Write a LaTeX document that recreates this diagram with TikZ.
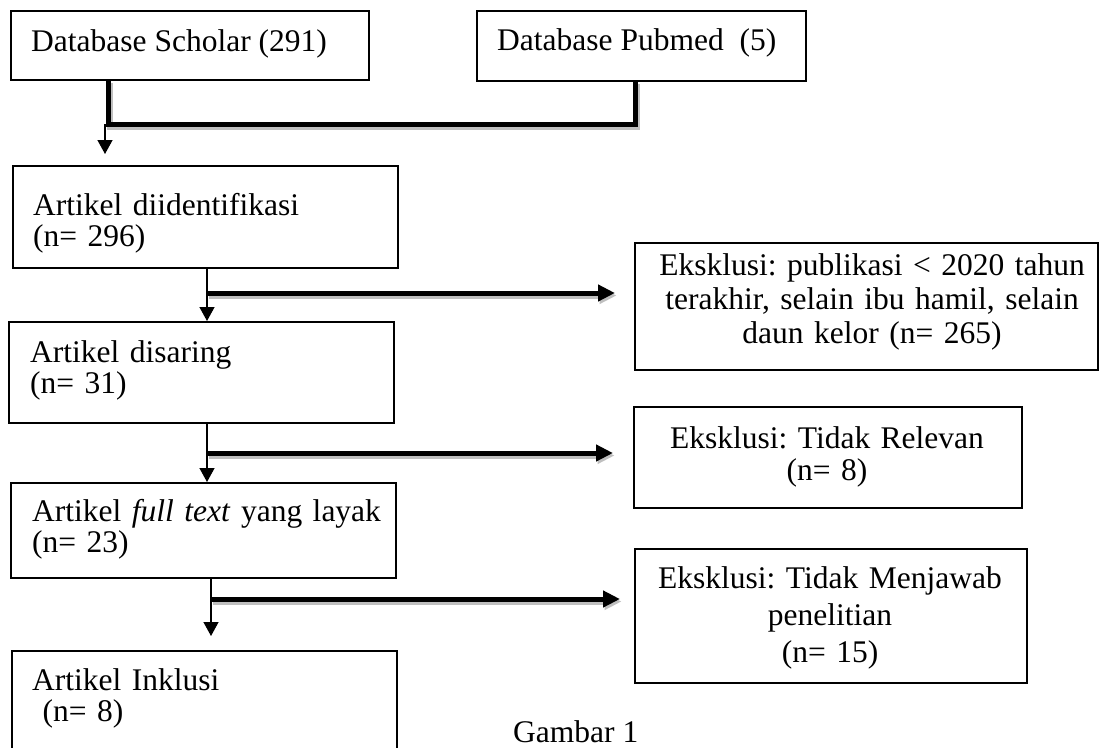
\documentclass[tikz,border=0pt]{standalone}
\usepackage{fontspec}
\setmainfont{Liberation Serif}
\usetikzlibrary{arrows.meta,calc}
\begin{document}
\begin{tikzpicture}[x=1pt,y=-1pt,
  box/.style={draw, line width=1.6pt, anchor=north west, inner sep=0pt},
  txt/.style={font=\fontsize{31.5}{31}\selectfont\frenchspacing, inner sep=0pt, anchor=base west, align=left},
  ctxt/.style={font=\fontsize{31.5}{34}\selectfont\frenchspacing, inner sep=0pt, anchor=base, align=center},
  thinarrow/.style={line width=1.3pt, -{Triangle[length=14pt,width=15pt]}},
  thickline/.style={line width=5pt, preaction={draw=black!25, line width=6pt, transform canvas={shift={(1.5,2.5)}}}},
  thickarrow/.style={thickline, -{Triangle[length=17pt,width=16pt]}}]
\useasboundingbox[fill=white] (0,0) rectangle (1099,747);
\clip (0,0) rectangle (1099,747);
% boxes
\node[box, minimum width=358pt, minimum height=69pt] (A) at (10,10) {};
\node[box, minimum width=329pt, minimum height=70pt] (B) at (476,10) {};
\node[box, minimum width=385pt, minimum height=102pt] (C) at (12,165) {};
\node[box, minimum width=463pt, minimum height=127pt] (D) at (634,242) {};
\node[box, minimum width=385pt, minimum height=101pt] (E) at (8,321) {};
\node[box, minimum width=388pt, minimum height=101pt] (G) at (633,406) {};
\node[box, minimum width=385pt, minimum height=95pt] (F) at (10,482) {};
\node[box, minimum width=392pt, minimum height=134pt] (I) at (634,548) {};
\node[box, minimum width=385pt, minimum height=130pt] (H) at (11,650) {};
% texts
\node[txt] (tA) at (31,51) {Database Scholar (291)};
\node[txt] (tB) at (497,50) {Database Pubmed\ \ (5)};
\node[txt, text width=370pt] (tC) at (33,215) {Artikel diidentifikasi\\(n= 296)};
\node[txt, text width=370pt] (tE) at (30,362) {Artikel disaring\\(n= 31)};
\node[txt, text width=370pt] (tF) at (32,521) {Artikel \textit{full text} yang layak\\(n= 23)};
\node[txt, text width=370pt] (tH) at (32,690) {Artikel Inklusi\\\ (n= 8)};
\node[ctxt, text width=460pt] (tD) at (872,275) {Eksklusi: publikasi < 2020 tahun\\terakhir, selain ibu hamil, selain\\daun kelor (n= 265)};
\node[ctxt, text width=380pt, font=\fontsize{31.5}{32}\selectfont\frenchspacing] (tG) at (827,448) {Eksklusi: Tidak Relevan\\(n= 8)};
\node[ctxt, text width=380pt, font=\fontsize{31.5}{37}\selectfont\frenchspacing] (tI) at (830,588) {Eksklusi: Tidak Menjawab\\penelitian\\(n= 15)};
\node[txt] (cap) at (513,742) {Gambar 1};
% connectors
\coordinate (j1) at (108,124);
\coordinate (j2) at (635,124);
\draw[thickline] (A.south -| j1) -- (j1) -- (j2) -- (B.south -| j2);
\coordinate (k1) at (105,124);
\draw[thinarrow] (k1) -- ($(C.north -| k1)+(0,-11)$);
\coordinate (k2) at (207,293);
\draw[thinarrow] (C.south -| k2) -- (E.north -| k2);
\draw[thickarrow] (k2) -- ($(D.west |- k2)+(-19,0)$);
\coordinate (k3) at (207,453);
\draw[thinarrow] (E.south -| k3) -- (F.north -| k3);
\draw[thickarrow] (k3) -- ($(G.west |- k3)+(-20,0)$);
\coordinate (k4) at (211,599);
\draw[thinarrow] (F.south -| k4) -- ($(H.north -| k4)+(0,-14)$);
\draw[thickarrow] (k4) -- ($(I.west |- k4)+(-14,0)$);
\end{tikzpicture}
\end{document}
